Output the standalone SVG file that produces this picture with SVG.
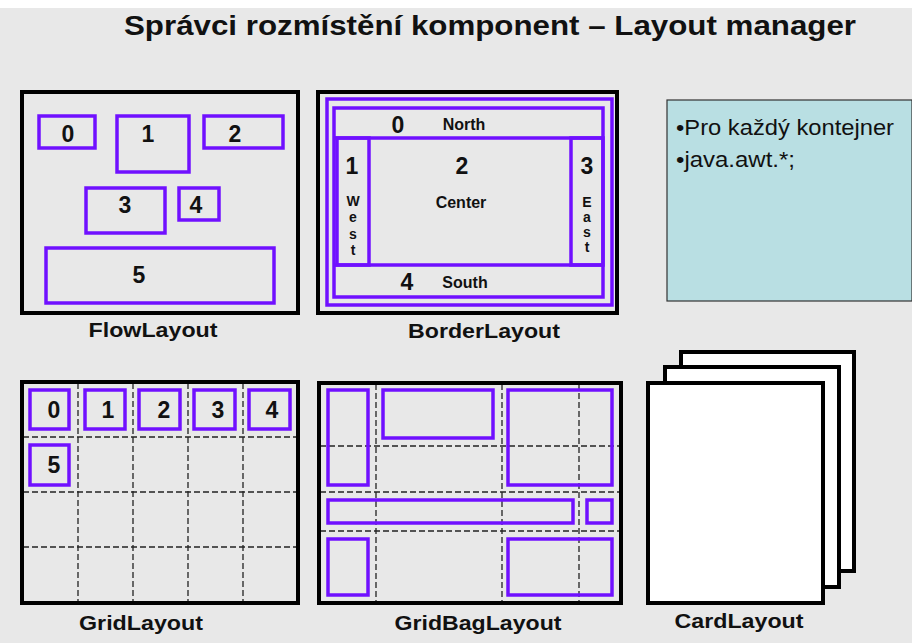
<svg xmlns="http://www.w3.org/2000/svg" width="912" height="643" viewBox="0 0 912 643">
<style>
.frame{fill:none;stroke:#000;stroke-width:4}
.comp{fill:none;stroke:#7010ff;stroke-width:3.5}
.grid{stroke:#222;stroke-width:1.3;stroke-dasharray:6 3;fill:none}
.card{fill:#fff;stroke:#000;stroke-width:4}
.num{font-family:"Liberation Sans",Arial,sans-serif;font-weight:bold;font-size:23px;fill:#111;text-anchor:middle}
.lbl{font-family:"Liberation Sans",Arial,sans-serif;font-weight:bold;font-size:21px;fill:#111;text-anchor:middle}
.sm{font-family:"Liberation Sans",Arial,sans-serif;font-weight:bold;font-size:16px;fill:#111;text-anchor:middle}
.vt{font-family:"Liberation Sans",Arial,sans-serif;font-weight:bold;font-size:14px;fill:#111;text-anchor:middle}
.body{font-family:"Liberation Sans",Arial,sans-serif;font-size:22px;fill:#111}
</style>
<rect x="0" y="0" width="912" height="643" fill="#e8e8e8"/>
<rect x="0" y="0" width="912" height="8" fill="#ffffff"/>
<text x="490" y="35" font-family="Liberation Sans, Arial, sans-serif" font-weight="bold" font-size="27" fill="#111" text-anchor="middle" textLength="732" lengthAdjust="spacingAndGlyphs">Správci rozmístění komponent – Layout manager</text>

<g id="flow">
<rect class="frame" x="22" y="92" width="276" height="221"/>
<rect class="comp" x="39" y="116" width="56" height="32"/>
<rect class="comp" x="117" y="116" width="72" height="56"/>
<rect class="comp" x="204" y="116" width="79" height="32"/>
<rect class="comp" x="86" y="188" width="79" height="45"/>
<rect class="comp" x="179" y="188" width="40" height="32"/>
<rect class="comp" x="46" y="248" width="228" height="55"/>
<text class="num" x="68" y="142">0</text>
<text class="num" x="148" y="142">1</text>
<text class="num" x="235" y="142">2</text>
<text class="num" x="125" y="213">3</text>
<text class="num" x="196" y="213">4</text>
<text class="num" x="139" y="283">5</text>
<text class="lbl" x="153" y="337" textLength="129" lengthAdjust="spacingAndGlyphs">FlowLayout</text>
</g>

<g id="border">
<rect class="frame" x="318" y="92" width="299" height="221"/>
<rect class="comp" x="327" y="99" width="285" height="206"/>
<rect class="comp" x="334" y="108" width="269" height="189"/>
<line class="comp" x1="334" y1="138" x2="603" y2="138"/>
<line class="comp" x1="334" y1="265" x2="603" y2="265"/>
<rect class="comp" x="337" y="138" width="32" height="127"/>
<rect class="comp" x="571" y="138" width="32" height="127"/>
<text class="num" x="398" y="133">0</text>
<text class="sm" x="464" y="130">North</text>
<text class="num" x="352" y="174">1</text>
<text class="num" x="462" y="174">2</text>
<text class="num" x="587" y="174">3</text>
<text class="sm" x="461" y="208">Center</text>
<text class="vt" x="353" y="206">W</text>
<text class="vt" x="353" y="222">e</text>
<text class="vt" x="353" y="239">s</text>
<text class="vt" x="353" y="255">t</text>
<text class="vt" x="587" y="207">E</text>
<text class="vt" x="587" y="222">a</text>
<text class="vt" x="587" y="237">s</text>
<text class="vt" x="587" y="252">t</text>
<text class="num" x="407" y="290">4</text>
<text class="sm" x="465" y="288">South</text>
<text class="lbl" x="484" y="338" textLength="152" lengthAdjust="spacingAndGlyphs">BorderLayout</text>
</g>

<g id="note">
<rect x="667" y="100" width="245" height="201" fill="#b9dfe3" stroke="#333" stroke-width="1.2"/>
<text class="body" x="676" y="135" textLength="218" lengthAdjust="spacingAndGlyphs">•Pro každý kontejner</text>
<text class="body" x="676" y="167" textLength="119" lengthAdjust="spacingAndGlyphs">•java.awt.*;</text>
</g>

<g id="grid">
<path class="grid" d="M78 383V602M133 383V602M188 383V602M243 383V602M23 437H297M23 492H297M23 547H297"/>
<rect class="frame" x="22" y="382" width="276" height="221"/>
<rect class="comp" x="30" y="390" width="39" height="39"/>
<rect class="comp" x="85" y="390" width="40" height="39"/>
<rect class="comp" x="139" y="390" width="41" height="39"/>
<rect class="comp" x="194" y="390" width="41" height="39"/>
<rect class="comp" x="249" y="390" width="41" height="39"/>
<rect class="comp" x="30" y="445" width="39" height="40"/>
<text class="num" x="54" y="418">0</text>
<text class="num" x="108" y="418">1</text>
<text class="num" x="164" y="418">2</text>
<text class="num" x="218" y="418">3</text>
<text class="num" x="272" y="418">4</text>
<text class="num" x="54" y="473">5</text>
<text class="lbl" x="141" y="630" textLength="124" lengthAdjust="spacingAndGlyphs">GridLayout</text>
</g>

<g id="gridbag">
<path class="grid" d="M376 384V602M502 384V602M579 384V602M320 446H620M320 492H620M320 531H620"/>
<rect class="frame" x="319" y="383" width="302" height="220"/>
<rect class="comp" x="328" y="390" width="40" height="95"/>
<rect class="comp" x="383" y="390" width="110" height="48"/>
<rect class="comp" x="508" y="390" width="104" height="95"/>
<rect class="comp" x="328" y="500" width="245" height="23"/>
<rect class="comp" x="587" y="500" width="25" height="23"/>
<rect class="comp" x="328" y="539" width="40" height="56"/>
<rect class="comp" x="508" y="539" width="104" height="56"/>
<text class="lbl" x="478" y="630" textLength="167" lengthAdjust="spacingAndGlyphs">GridBagLayout</text>
</g>

<g id="card">
<rect class="card" x="681" y="352" width="173" height="219"/>
<rect class="card" x="665" y="367" width="174" height="220"/>
<rect class="card" x="648" y="383" width="175" height="220"/>
<text class="lbl" x="739" y="628" textLength="129" lengthAdjust="spacingAndGlyphs">CardLayout</text>
</g>
</svg>
